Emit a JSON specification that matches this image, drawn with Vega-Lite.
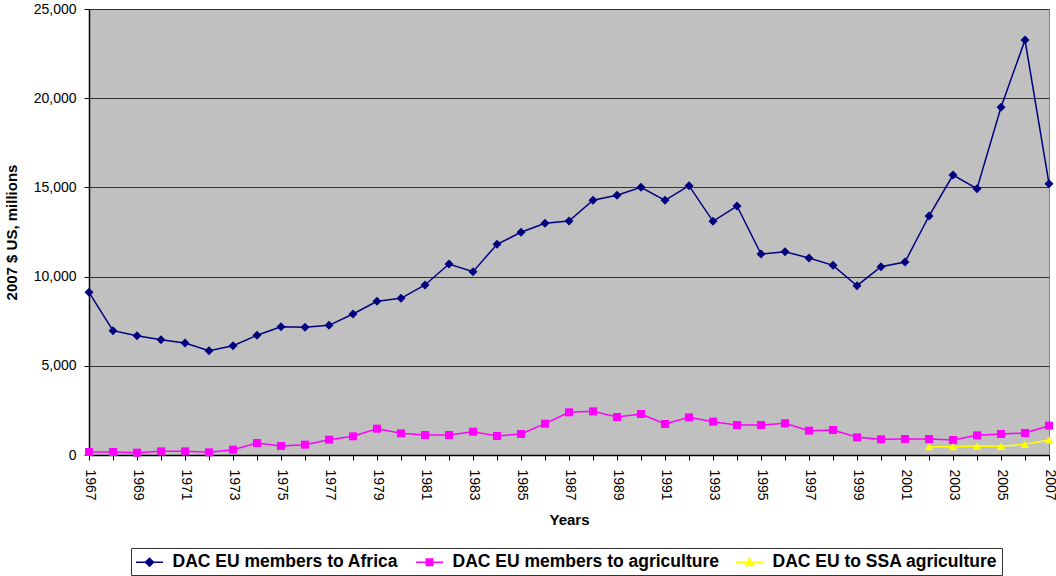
{
  "$schema": "https://vega.github.io/schema/vega-lite/v6.json",
  "width": 960,
  "height": 446,
  "autosize": {"type": "none"},
  "padding": {"left": 89, "top": 9, "right": 7, "bottom": 121},
  "background": "white",
  "config": {
    "font": "Liberation Sans",
    "view": {"fill": "#C0C0C0", "stroke": "#808080", "strokeWidth": 1},
    "axis": {"labelFont": "Liberation Sans", "titleFont": "Liberation Sans", "labelColor": "black", "titleColor": "black", "domainColor": "black", "tickColor": "black"}
  },
  "datasets": {
    "rows": [
      {"year": 1967, "series": "DAC EU members to Africa", "value": 9120},
      {"year": 1968, "series": "DAC EU members to Africa", "value": 6968},
      {"year": 1969, "series": "DAC EU members to Africa", "value": 6690},
      {"year": 1970, "series": "DAC EU members to Africa", "value": 6465},
      {"year": 1971, "series": "DAC EU members to Africa", "value": 6278},
      {"year": 1972, "series": "DAC EU members to Africa", "value": 5847},
      {"year": 1973, "series": "DAC EU members to Africa", "value": 6128},
      {"year": 1974, "series": "DAC EU members to Africa", "value": 6710},
      {"year": 1975, "series": "DAC EU members to Africa", "value": 7193},
      {"year": 1976, "series": "DAC EU members to Africa", "value": 7155},
      {"year": 1977, "series": "DAC EU members to Africa", "value": 7268},
      {"year": 1978, "series": "DAC EU members to Africa", "value": 7903},
      {"year": 1979, "series": "DAC EU members to Africa", "value": 8613},
      {"year": 1980, "series": "DAC EU members to Africa", "value": 8782},
      {"year": 1981, "series": "DAC EU members to Africa", "value": 9529},
      {"year": 1982, "series": "DAC EU members to Africa", "value": 10706},
      {"year": 1983, "series": "DAC EU members to Africa", "value": 10275},
      {"year": 1984, "series": "DAC EU members to Africa", "value": 11810},
      {"year": 1985, "series": "DAC EU members to Africa", "value": 12483},
      {"year": 1986, "series": "DAC EU members to Africa", "value": 12987},
      {"year": 1987, "series": "DAC EU members to Africa", "value": 13117},
      {"year": 1988, "series": "DAC EU members to Africa", "value": 14277},
      {"year": 1989, "series": "DAC EU members to Africa", "value": 14557},
      {"year": 1990, "series": "DAC EU members to Africa", "value": 15005},
      {"year": 1991, "series": "DAC EU members to Africa", "value": 14277},
      {"year": 1992, "series": "DAC EU members to Africa", "value": 15096},
      {"year": 1993, "series": "DAC EU members to Africa", "value": 13100},
      {"year": 1994, "series": "DAC EU members to Africa", "value": 13957},
      {"year": 1995, "series": "DAC EU members to Africa", "value": 11267},
      {"year": 1996, "series": "DAC EU members to Africa", "value": 11396},
      {"year": 1997, "series": "DAC EU members to Africa", "value": 11043},
      {"year": 1998, "series": "DAC EU members to Africa", "value": 10633},
      {"year": 1999, "series": "DAC EU members to Africa", "value": 9490},
      {"year": 2000, "series": "DAC EU members to Africa", "value": 10555},
      {"year": 2001, "series": "DAC EU members to Africa", "value": 10818},
      {"year": 2002, "series": "DAC EU members to Africa", "value": 13397},
      {"year": 2003, "series": "DAC EU members to Africa", "value": 15695},
      {"year": 2004, "series": "DAC EU members to Africa", "value": 14927},
      {"year": 2005, "series": "DAC EU members to Africa", "value": 19490},
      {"year": 2006, "series": "DAC EU members to Africa", "value": 23262},
      {"year": 2007, "series": "DAC EU members to Africa", "value": 15207},
      {"year": 1967, "series": "DAC EU members to agriculture", "value": 168},
      {"year": 1968, "series": "DAC EU members to agriculture", "value": 168},
      {"year": 1969, "series": "DAC EU members to agriculture", "value": 130},
      {"year": 1970, "series": "DAC EU members to agriculture", "value": 207},
      {"year": 1971, "series": "DAC EU members to agriculture", "value": 207},
      {"year": 1972, "series": "DAC EU members to agriculture", "value": 150},
      {"year": 1973, "series": "DAC EU members to agriculture", "value": 299},
      {"year": 1974, "series": "DAC EU members to agriculture", "value": 673},
      {"year": 1975, "series": "DAC EU members to agriculture", "value": 504},
      {"year": 1976, "series": "DAC EU members to agriculture", "value": 579},
      {"year": 1977, "series": "DAC EU members to agriculture", "value": 860},
      {"year": 1978, "series": "DAC EU members to agriculture", "value": 1046},
      {"year": 1979, "series": "DAC EU members to agriculture", "value": 1476},
      {"year": 1980, "series": "DAC EU members to agriculture", "value": 1214},
      {"year": 1981, "series": "DAC EU members to agriculture", "value": 1121},
      {"year": 1982, "series": "DAC EU members to agriculture", "value": 1121},
      {"year": 1983, "series": "DAC EU members to agriculture", "value": 1308},
      {"year": 1984, "series": "DAC EU members to agriculture", "value": 1065},
      {"year": 1985, "series": "DAC EU members to agriculture", "value": 1177},
      {"year": 1986, "series": "DAC EU members to agriculture", "value": 1757},
      {"year": 1987, "series": "DAC EU members to agriculture", "value": 2392},
      {"year": 1988, "series": "DAC EU members to agriculture", "value": 2448},
      {"year": 1989, "series": "DAC EU members to agriculture", "value": 2130},
      {"year": 1990, "series": "DAC EU members to agriculture", "value": 2298},
      {"year": 1991, "series": "DAC EU members to agriculture", "value": 1738},
      {"year": 1992, "series": "DAC EU members to agriculture", "value": 2111},
      {"year": 1993, "series": "DAC EU members to agriculture", "value": 1868},
      {"year": 1994, "series": "DAC EU members to agriculture", "value": 1682},
      {"year": 1995, "series": "DAC EU members to agriculture", "value": 1682},
      {"year": 1996, "series": "DAC EU members to agriculture", "value": 1775},
      {"year": 1997, "series": "DAC EU members to agriculture", "value": 1364},
      {"year": 1998, "series": "DAC EU members to agriculture", "value": 1401},
      {"year": 1999, "series": "DAC EU members to agriculture", "value": 990},
      {"year": 2000, "series": "DAC EU members to agriculture", "value": 878},
      {"year": 2001, "series": "DAC EU members to agriculture", "value": 897},
      {"year": 2002, "series": "DAC EU members to agriculture", "value": 897},
      {"year": 2003, "series": "DAC EU members to agriculture", "value": 841},
      {"year": 2004, "series": "DAC EU members to agriculture", "value": 1102},
      {"year": 2005, "series": "DAC EU members to agriculture", "value": 1177},
      {"year": 2006, "series": "DAC EU members to agriculture", "value": 1233},
      {"year": 2007, "series": "DAC EU members to agriculture", "value": 1644},
      {"year": 2002, "series": "DAC EU to SSA agriculture", "value": 467},
      {"year": 2003, "series": "DAC EU to SSA agriculture", "value": 467},
      {"year": 2004, "series": "DAC EU to SSA agriculture", "value": 504},
      {"year": 2005, "series": "DAC EU to SSA agriculture", "value": 486},
      {"year": 2006, "series": "DAC EU to SSA agriculture", "value": 598},
      {"year": 2007, "series": "DAC EU to SSA agriculture", "value": 841}
    ]
  },
  "data": {"name": "rows"},
  "encoding": {
    "x": {
      "field": "year", "type": "quantitative",
      "scale": {"domain": [1967, 2007], "nice": false, "zero": false},
      "axis": {
        "title": "Years", "titleFontSize": 15, "titleFontWeight": "bold", "titlePadding": 12,
        "values": [1967,1968,1969,1970,1971,1972,1973,1974,1975,1976,1977,1978,1979,1980,1981,1982,1983,1984,1985,1986,1987,1988,1989,1990,1991,1992,1993,1994,1995,1996,1997,1998,1999,2000,2001,2002,2003,2004,2005,2006,2007],
        "format": "d",
        "labelExpr": "datum.value % 2 === 1 ? datum.label : ''",
        "labelAngle": 90, "labelFontSize": 14, "labelPadding": 9, "labelOverlap": false, "labelBound": false, "labelFlush": false,
        "grid": false, "tickSize": 5, "domainWidth": 1.5
      }
    },
    "y": {
      "field": "value", "type": "quantitative",
      "scale": {"domain": [0, 25000], "nice": false},
      "axis": {
        "title": "2007 $ US, millions", "titleFontSize": 15, "titleFontWeight": "bold", "titlePadding": 14,
        "values": [0, 5000, 10000, 15000, 20000, 25000], "format": ",.0f",
        "labelFontSize": 14, "labelPadding": 8, "tickSize": 5,
        "grid": true, "gridColor": "#333333", "gridWidth": 1, "domainWidth": 1.5
      }
    },
    "color": {
      "field": "series", "type": "nominal",
      "scale": {
        "domain": ["DAC EU members to Africa", "DAC EU members to agriculture", "DAC EU to SSA agriculture"],
        "range": ["#000080", "#FF00FF", "#FFFF00"]
      },
      "legend": {
        "orient": "none", "legendX": 42, "legendY": 539, "direction": "horizontal", "title": null,
        "strokeColor": "#333333", "padding": 4, "fillColor": "white",
        "labelFont": "Liberation Sans", "labelFontSize": 17.5, "labelFontWeight": "bold", "labelColor": "black", "labelLimit": 500,
        "symbolSize": 324, "symbolOffset": 4.5, "symbolStrokeWidth": 1.5, "columnPadding": 14, "labelOffset": 13,
        "encode": {
          "symbols": {
            "update": {
              "shape": {"signal": "datum.value === 'DAC EU members to Africa' ? 'M-1.5,0H1.5M0,-0.45L0.45,0L0,0.45L-0.45,0Z' : (datum.value === 'DAC EU members to agriculture' ? 'M-1.5,0H1.5M-0.36,-0.36H0.36V0.36H-0.36Z' : 'M-1.5,0H1.5M0,-0.45L0.45,0.36H-0.45Z')"},
              "fill": {"scale": "color", "field": "value"},
              "stroke": {"scale": "color", "field": "value"}
            }
          }
        }
      }
    }
  },
  "layer": [
    {
      "mark": {"type": "line", "strokeWidth": 1.5}
    },
    {
      "transform": [{"filter": "datum.series === 'DAC EU members to Africa'"}],
      "mark": {"type": "point", "filled": true, "opacity": 1, "size": 81, "shape": "diamond"}
    },
    {
      "transform": [{"filter": "datum.series === 'DAC EU members to agriculture'"}],
      "mark": {"type": "point", "filled": true, "opacity": 1, "size": 64, "shape": "square"}
    },
    {
      "transform": [{"filter": "datum.series === 'DAC EU to SSA agriculture'"}],
      "mark": {"type": "point", "filled": true, "opacity": 1, "size": 70, "shape": "triangle-up"}
    }
  ]
}
